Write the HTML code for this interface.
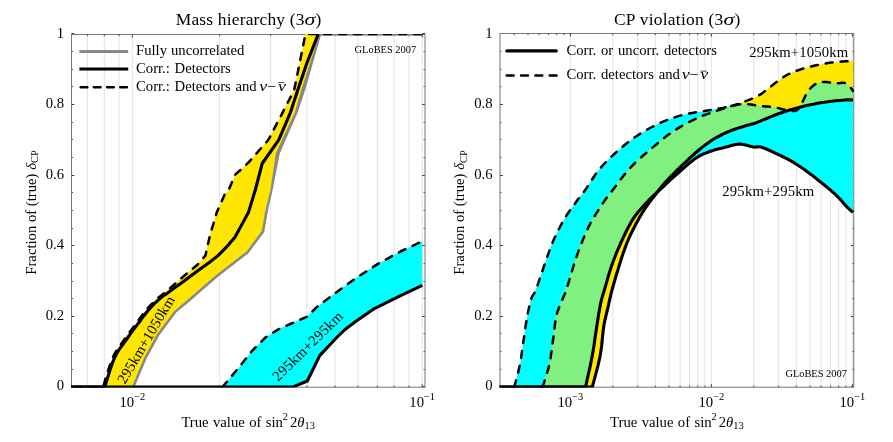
<!DOCTYPE html>
<html><head><meta charset="utf-8"><title>plot</title>
<style>
html,body{margin:0;padding:0;background:#fff;}
svg{display:block;will-change:transform;opacity:0.999;}
text{font-family:"Liberation Serif",serif;fill:#000;}
.i{font-style:italic;}
</style></head><body>
<svg width="893" height="442" viewBox="0 0 893 442">
<rect width="893" height="442" fill="#fff"/>
<defs>
<clipPath id="cl"><rect x="71.0" y="34.0" width="354.5" height="353.59999999999997"/></clipPath>
<clipPath id="cr"><rect x="499.5" y="33.0" width="354.79999999999995" height="354.59999999999997"/></clipPath>
<clipPath id="ccy" clip-path="url(#cr)"><polygon points="490.0,387.1 514.2,387.1 514.8,384.7 515.8,381.3 516.8,377.3 518.0,373.0 519.0,368.7 519.9,364.7 520.6,360.9 521.2,357.2 521.7,353.4 522.3,349.6 522.8,345.8 523.3,342.0 523.9,338.2 524.4,334.4 524.9,330.6 525.5,326.8 526.1,323.0 526.7,319.4 527.4,315.7 528.1,312.0 528.9,308.3 529.7,304.9 530.4,301.7 531.2,299.0 531.9,297.0 532.6,295.7 533.3,294.7 534.0,293.6 534.8,292.2 535.8,290.0 536.9,287.0 538.2,283.4 539.5,279.4 540.9,275.3 542.4,271.0 543.8,266.9 545.2,262.8 546.6,258.6 548.1,254.4 549.6,250.2 551.2,246.0 552.8,242.0 554.5,238.0 556.4,234.1 558.2,230.3 560.2,226.5 562.1,222.9 564.1,219.4 566.2,216.0 568.3,212.8 570.5,209.6 572.7,206.7 574.7,203.9 576.6,201.3 578.2,199.1 579.5,197.4 580.8,195.8 582.1,194.2 583.5,192.4 585.2,190.0 587.2,187.1 589.4,183.7 591.7,180.0 594.2,176.3 596.7,172.6 599.4,169.2 602.2,166.0 605.1,162.9 608.1,159.8 611.2,156.9 614.3,154.0 617.5,151.1 620.7,148.3 624.0,145.5 627.4,142.8 630.9,140.2 634.3,137.6 637.9,135.2 641.5,132.9 645.3,130.6 649.1,128.5 652.9,126.5 656.7,124.6 660.5,122.8 664.3,121.2 668.0,119.7 671.8,118.3 675.6,117.1 679.3,115.9 683.1,114.9 686.9,114.0 690.8,113.2 694.8,112.5 698.6,111.9 702.3,111.4 705.7,110.8 708.8,110.3 711.6,109.8 714.3,109.3 716.9,108.9 719.6,108.4 722.6,107.9 725.8,107.2 729.2,106.5 732.7,105.6 736.2,104.9 739.7,104.3 743.0,104.0 746.2,104.0 749.4,104.3 752.5,104.7 755.5,105.3 758.4,105.7 761.1,106.1 763.7,106.3 766.1,106.5 768.3,106.6 770.5,106.7 772.6,106.9 774.7,107.2 776.7,107.6 778.7,108.1 780.6,108.7 782.4,109.2 784.2,109.7 786.0,110.1 787.8,110.4 789.7,110.7 791.5,111.0 793.2,111.1 794.8,111.0 796.2,110.6 797.4,109.9 798.4,108.9 799.3,107.7 800.1,106.3 800.9,104.8 801.8,103.3 802.7,101.6 803.6,99.7 804.5,97.7 805.4,95.7 806.4,93.7 807.5,92.0 808.7,90.4 809.9,88.9 811.2,87.5 812.6,86.2 814.0,85.0 815.4,84.1 816.8,83.4 818.2,82.8 819.7,82.4 821.2,82.1 822.8,82.0 824.4,81.9 826.2,82.0 828.1,82.2 830.0,82.5 832.0,82.9 833.9,83.2 835.7,83.4 837.4,83.4 839.0,83.2 840.6,83.0 842.1,82.8 843.5,82.8 844.8,83.0 846.0,83.5 847.1,84.2 848.1,85.0 849.0,85.9 849.8,86.8 850.5,87.5 851.1,88.2 851.7,88.9 852.1,89.5 852.5,90.1 852.8,90.6 853.0,91.0 853.0,212.3 852.4,211.8 851.7,211.2 850.8,210.5 849.7,209.6 848.5,208.4 847.1,207.1 845.5,205.4 843.8,203.5 841.9,201.3 839.9,199.0 837.8,196.8 835.7,194.7 833.6,192.8 831.4,190.9 829.2,189.0 827.0,187.1 824.6,185.2 822.2,183.3 819.7,181.3 817.1,179.2 814.4,177.0 811.7,174.9 809.0,172.9 806.3,170.9 803.7,169.0 801.0,167.3 798.4,165.5 795.8,163.8 793.1,162.2 790.5,160.7 787.8,159.2 785.2,157.8 782.5,156.5 779.8,155.2 777.2,154.0 774.7,152.8 772.2,151.7 769.8,150.5 767.4,149.5 765.1,148.5 763.0,147.7 761.1,147.1 759.5,146.8 758.3,146.8 757.1,146.9 756.0,147.0 754.8,147.1 753.2,147.0 751.3,146.6 749.1,146.0 746.8,145.3 744.4,144.7 742.0,144.3 739.6,144.1 737.2,144.3 734.7,144.7 732.2,145.3 729.8,146.0 727.3,146.7 724.9,147.3 722.6,147.9 720.3,148.4 718.1,148.9 715.9,149.5 713.6,150.2 711.3,151.0 709.0,151.8 706.6,152.7 704.3,153.6 701.9,154.7 699.3,156.0 696.7,157.6 693.9,159.6 690.9,161.9 687.9,164.4 684.8,167.1 681.7,169.8 678.6,172.5 675.5,175.3 672.3,178.2 669.1,181.2 665.9,184.1 662.9,187.0 660.0,189.7 657.3,192.2 654.8,194.5 652.4,196.7 650.1,198.9 647.9,201.2 645.6,203.6 643.4,206.0 641.2,208.5 639.0,211.0 636.9,213.6 634.8,216.4 632.8,219.4 630.8,222.8 628.8,226.4 626.8,230.3 624.8,234.2 623.0,238.1 621.2,242.0 619.5,245.8 617.9,249.5 616.3,253.2 614.9,257.0 613.4,260.8 612.0,264.7 610.6,268.9 609.2,273.3 607.9,277.7 606.7,282.1 605.5,286.1 604.5,289.7 603.6,292.6 602.9,294.8 602.3,296.8 601.8,298.7 601.2,300.9 600.6,303.6 600.0,306.8 599.4,310.2 598.7,313.9 598.1,317.8 597.5,321.9 596.8,326.2 596.1,330.7 595.4,335.4 594.7,340.3 594.0,345.4 593.2,350.5 592.3,355.6 591.2,361.1 590.0,367.1 588.6,373.2 587.3,378.9 586.3,383.6 585.5,387.1 490.0,387.1"/></clipPath>
</defs>
<!-- left chart -->
<line x1="87.5" y1="34.5" x2="87.5" y2="387.2" stroke="#e3e3e3" stroke-width="1"/>
<line x1="104.3" y1="34.5" x2="104.3" y2="387.2" stroke="#e3e3e3" stroke-width="1"/>
<line x1="119.1" y1="34.5" x2="119.1" y2="387.2" stroke="#e3e3e3" stroke-width="1"/>
<line x1="132.4" y1="34.5" x2="132.4" y2="387.2" stroke="#e3e3e3" stroke-width="1"/>
<line x1="219.6" y1="34.5" x2="219.6" y2="387.2" stroke="#e3e3e3" stroke-width="1"/>
<line x1="270.7" y1="34.5" x2="270.7" y2="387.2" stroke="#e3e3e3" stroke-width="1"/>
<line x1="306.9" y1="34.5" x2="306.9" y2="387.2" stroke="#e3e3e3" stroke-width="1"/>
<line x1="335.0" y1="34.5" x2="335.0" y2="387.2" stroke="#e3e3e3" stroke-width="1"/>
<line x1="357.9" y1="34.5" x2="357.9" y2="387.2" stroke="#e3e3e3" stroke-width="1"/>
<line x1="377.3" y1="34.5" x2="377.3" y2="387.2" stroke="#e3e3e3" stroke-width="1"/>
<line x1="394.1" y1="34.5" x2="394.1" y2="387.2" stroke="#e3e3e3" stroke-width="1"/>
<line x1="408.9" y1="34.5" x2="408.9" y2="387.2" stroke="#e3e3e3" stroke-width="1"/>
<line x1="422.2" y1="34.5" x2="422.2" y2="387.2" stroke="#e3e3e3" stroke-width="1"/>
<line x1="87.5" y1="34.5" x2="87.5" y2="36.1" stroke="#3a3a3a" stroke-width="1"/>
<line x1="87.5" y1="387.2" x2="87.5" y2="385.59999999999997" stroke="#3a3a3a" stroke-width="1"/>
<line x1="104.3" y1="34.5" x2="104.3" y2="36.1" stroke="#3a3a3a" stroke-width="1"/>
<line x1="104.3" y1="387.2" x2="104.3" y2="385.59999999999997" stroke="#3a3a3a" stroke-width="1"/>
<line x1="119.1" y1="34.5" x2="119.1" y2="36.1" stroke="#3a3a3a" stroke-width="1"/>
<line x1="119.1" y1="387.2" x2="119.1" y2="385.59999999999997" stroke="#3a3a3a" stroke-width="1"/>
<line x1="132.4" y1="34.5" x2="132.4" y2="37.5" stroke="#3a3a3a" stroke-width="1"/>
<line x1="132.4" y1="387.2" x2="132.4" y2="384.2" stroke="#3a3a3a" stroke-width="1"/>
<line x1="219.6" y1="34.5" x2="219.6" y2="36.1" stroke="#3a3a3a" stroke-width="1"/>
<line x1="219.6" y1="387.2" x2="219.6" y2="385.59999999999997" stroke="#3a3a3a" stroke-width="1"/>
<line x1="270.7" y1="34.5" x2="270.7" y2="36.1" stroke="#3a3a3a" stroke-width="1"/>
<line x1="270.7" y1="387.2" x2="270.7" y2="385.59999999999997" stroke="#3a3a3a" stroke-width="1"/>
<line x1="306.9" y1="34.5" x2="306.9" y2="36.1" stroke="#3a3a3a" stroke-width="1"/>
<line x1="306.9" y1="387.2" x2="306.9" y2="385.59999999999997" stroke="#3a3a3a" stroke-width="1"/>
<line x1="335.0" y1="34.5" x2="335.0" y2="36.1" stroke="#3a3a3a" stroke-width="1"/>
<line x1="335.0" y1="387.2" x2="335.0" y2="385.59999999999997" stroke="#3a3a3a" stroke-width="1"/>
<line x1="357.9" y1="34.5" x2="357.9" y2="36.1" stroke="#3a3a3a" stroke-width="1"/>
<line x1="357.9" y1="387.2" x2="357.9" y2="385.59999999999997" stroke="#3a3a3a" stroke-width="1"/>
<line x1="377.3" y1="34.5" x2="377.3" y2="36.1" stroke="#3a3a3a" stroke-width="1"/>
<line x1="377.3" y1="387.2" x2="377.3" y2="385.59999999999997" stroke="#3a3a3a" stroke-width="1"/>
<line x1="394.1" y1="34.5" x2="394.1" y2="36.1" stroke="#3a3a3a" stroke-width="1"/>
<line x1="394.1" y1="387.2" x2="394.1" y2="385.59999999999997" stroke="#3a3a3a" stroke-width="1"/>
<line x1="408.9" y1="34.5" x2="408.9" y2="36.1" stroke="#3a3a3a" stroke-width="1"/>
<line x1="408.9" y1="387.2" x2="408.9" y2="385.59999999999997" stroke="#3a3a3a" stroke-width="1"/>
<line x1="422.2" y1="34.5" x2="422.2" y2="37.5" stroke="#3a3a3a" stroke-width="1"/>
<line x1="422.2" y1="387.2" x2="422.2" y2="384.2" stroke="#3a3a3a" stroke-width="1"/>
<line x1="71.5" y1="386.5" x2="74.3" y2="386.5" stroke="#3a3a3a" stroke-width="1"/>
<line x1="425.0" y1="386.5" x2="422.2" y2="386.5" stroke="#3a3a3a" stroke-width="1"/>
<line x1="71.5" y1="369.5" x2="72.9" y2="369.5" stroke="#3a3a3a" stroke-width="1"/>
<line x1="425.0" y1="369.5" x2="423.6" y2="369.5" stroke="#3a3a3a" stroke-width="1"/>
<line x1="71.5" y1="351.5" x2="72.9" y2="351.5" stroke="#3a3a3a" stroke-width="1"/>
<line x1="425.0" y1="351.5" x2="423.6" y2="351.5" stroke="#3a3a3a" stroke-width="1"/>
<line x1="71.5" y1="333.5" x2="72.9" y2="333.5" stroke="#3a3a3a" stroke-width="1"/>
<line x1="425.0" y1="333.5" x2="423.6" y2="333.5" stroke="#3a3a3a" stroke-width="1"/>
<line x1="71.5" y1="316.5" x2="74.3" y2="316.5" stroke="#3a3a3a" stroke-width="1"/>
<line x1="425.0" y1="316.5" x2="422.2" y2="316.5" stroke="#3a3a3a" stroke-width="1"/>
<line x1="71.5" y1="298.5" x2="72.9" y2="298.5" stroke="#3a3a3a" stroke-width="1"/>
<line x1="425.0" y1="298.5" x2="423.6" y2="298.5" stroke="#3a3a3a" stroke-width="1"/>
<line x1="71.5" y1="281.5" x2="72.9" y2="281.5" stroke="#3a3a3a" stroke-width="1"/>
<line x1="425.0" y1="281.5" x2="423.6" y2="281.5" stroke="#3a3a3a" stroke-width="1"/>
<line x1="71.5" y1="263.5" x2="72.9" y2="263.5" stroke="#3a3a3a" stroke-width="1"/>
<line x1="425.0" y1="263.5" x2="423.6" y2="263.5" stroke="#3a3a3a" stroke-width="1"/>
<line x1="71.5" y1="245.5" x2="74.3" y2="245.5" stroke="#3a3a3a" stroke-width="1"/>
<line x1="425.0" y1="245.5" x2="422.2" y2="245.5" stroke="#3a3a3a" stroke-width="1"/>
<line x1="71.5" y1="228.5" x2="72.9" y2="228.5" stroke="#3a3a3a" stroke-width="1"/>
<line x1="425.0" y1="228.5" x2="423.6" y2="228.5" stroke="#3a3a3a" stroke-width="1"/>
<line x1="71.5" y1="210.5" x2="72.9" y2="210.5" stroke="#3a3a3a" stroke-width="1"/>
<line x1="425.0" y1="210.5" x2="423.6" y2="210.5" stroke="#3a3a3a" stroke-width="1"/>
<line x1="71.5" y1="192.5" x2="72.9" y2="192.5" stroke="#3a3a3a" stroke-width="1"/>
<line x1="425.0" y1="192.5" x2="423.6" y2="192.5" stroke="#3a3a3a" stroke-width="1"/>
<line x1="71.5" y1="175.5" x2="74.3" y2="175.5" stroke="#3a3a3a" stroke-width="1"/>
<line x1="425.0" y1="175.5" x2="422.2" y2="175.5" stroke="#3a3a3a" stroke-width="1"/>
<line x1="71.5" y1="157.5" x2="72.9" y2="157.5" stroke="#3a3a3a" stroke-width="1"/>
<line x1="425.0" y1="157.5" x2="423.6" y2="157.5" stroke="#3a3a3a" stroke-width="1"/>
<line x1="71.5" y1="139.5" x2="72.9" y2="139.5" stroke="#3a3a3a" stroke-width="1"/>
<line x1="425.0" y1="139.5" x2="423.6" y2="139.5" stroke="#3a3a3a" stroke-width="1"/>
<line x1="71.5" y1="122.5" x2="72.9" y2="122.5" stroke="#3a3a3a" stroke-width="1"/>
<line x1="425.0" y1="122.5" x2="423.6" y2="122.5" stroke="#3a3a3a" stroke-width="1"/>
<line x1="71.5" y1="104.5" x2="74.3" y2="104.5" stroke="#3a3a3a" stroke-width="1"/>
<line x1="425.0" y1="104.5" x2="422.2" y2="104.5" stroke="#3a3a3a" stroke-width="1"/>
<line x1="71.5" y1="86.5" x2="72.9" y2="86.5" stroke="#3a3a3a" stroke-width="1"/>
<line x1="425.0" y1="86.5" x2="423.6" y2="86.5" stroke="#3a3a3a" stroke-width="1"/>
<line x1="71.5" y1="69.5" x2="72.9" y2="69.5" stroke="#3a3a3a" stroke-width="1"/>
<line x1="425.0" y1="69.5" x2="423.6" y2="69.5" stroke="#3a3a3a" stroke-width="1"/>
<line x1="71.5" y1="51.5" x2="72.9" y2="51.5" stroke="#3a3a3a" stroke-width="1"/>
<line x1="425.0" y1="51.5" x2="423.6" y2="51.5" stroke="#3a3a3a" stroke-width="1"/>
<line x1="71.5" y1="33.5" x2="74.3" y2="33.5" stroke="#3a3a3a" stroke-width="1"/>
<line x1="425.0" y1="33.5" x2="422.2" y2="33.5" stroke="#3a3a3a" stroke-width="1"/>
<rect x="71.5" y="34.5" width="353.5" height="352.7" fill="none" stroke="#777" stroke-width="1"/>
<g clip-path="url(#cl)">
<polygon points="134.6,387.1 146.9,357.9 159.4,335.2 176.3,312.6 189.9,301.3 203.0,289.7 219.0,276.0 248.4,253.3 264.3,231.9 267.6,212.6 272.6,190.0 279.8,153.6 285.6,140.0 297.7,112.6 305.2,90.0 321.3,34.1 316.0,32.6 299.9,88.4 292.6,110.6 280.6,137.8 274.5,152.2 267.2,188.9 262.2,211.5 259.3,229.6 244.6,249.4 215.6,271.7 199.4,285.5 186.3,297.1 172.2,308.9 154.8,332.2 141.9,355.5 129.5,385.0" fill="#888"/>
<line x1="316" y1="34.1" x2="422.3" y2="34.1" stroke="#888" stroke-width="3.1"/>
<polygon points="60.0,387.1 103.2,387.1 105.5,378.6 107.2,373.1 109.1,367.3 111.1,361.9 112.9,357.2 114.8,353.4 116.8,350.1 118.8,347.0 120.9,344.3 122.9,341.6 124.8,338.8 126.8,336.0 128.8,333.2 130.8,330.5 132.8,327.9 134.7,325.4 136.5,322.9 138.3,320.5 140.0,318.1 141.7,315.9 143.3,313.6 145.0,311.4 146.8,309.3 148.6,307.2 150.5,305.2 152.4,303.3 154.3,301.4 156.3,299.5 158.3,297.7 160.6,295.9 163.1,294.0 165.6,292.1 169.5,288.6 183.9,276.0 197.5,264.7 205.4,255.6 210.0,235.2 216.7,212.6 224.7,194.5 228.8,189.7 235.1,174.8 248.6,162.4 268.4,139.8 282.6,112.6 294.2,90.0 305.5,34.1 422.3,34.1 319.3,34.1 301.3,90.0 294.8,112.6 282.0,140.0 275.8,153.6 270.4,190.0 265.0,212.2 261.9,230.8 246.6,251.4 217.4,274.0 201.3,287.7 188.2,299.3 174.4,310.9 157.2,333.8 144.6,356.8 131.8,387.1" fill="#FFE600"/>
<polygon points="60.0,387.1 222.4,387.1 239.4,366.9 251.9,351.1 265.4,337.5 277.9,329.6 291.4,323.5 307.3,316.5 316.3,307.5 332.0,295.5 355.2,278.6 377.9,263.9 400.5,251.5 422.3,241.3 422.3,285.4 400.5,295.6 373.3,309.2 357.0,320.5 345.0,329.5 336.7,337.5 319.7,355.6 307.3,381.0 292.6,387.1 60.0,387.1" fill="#00FFFF"/>
<polyline points="60.0,387.1 104.7,387.1 105.7,383.8 107.2,379.1 108.9,373.6 110.7,367.9 112.6,362.5 114.5,357.9 116.3,354.2 118.3,351.0 120.2,348.0 122.2,345.3 124.2,342.6 126.2,339.8 128.2,337.0 130.2,334.2 132.1,331.6 134.1,328.9 136.0,326.4 137.9,323.9 139.7,321.5 141.4,319.1 143.0,316.9 144.7,314.7 146.4,312.5 148.1,310.4 149.9,308.4 151.7,306.4 153.6,304.4 155.5,302.6 157.4,300.8 159.4,299.0 161.4,297.4 163.4,295.8 165.5,294.4 167.6,292.9 169.9,291.3 172.4,289.5 175.0,287.6 177.8,285.6 180.7,283.4 183.7,281.2 187.1,278.7 190.7,276.0 194.8,273.0 199.5,269.6 204.4,266.1 209.3,262.5 213.9,258.9 217.9,255.6 221.5,252.2 224.9,248.7 228.1,245.3 230.8,242.1 233.1,239.4 234.8,237.5 248.4,212.6 255.3,190.0 262.2,163.5 278.8,139.8 290.4,112.6 297.8,90.0 307.1,62.5 318.2,34.1" fill="none" stroke="#000" stroke-width="3.1" stroke-linejoin="round"/>
<polyline points="60.0,387.1 103.2,387.1 105.5,378.6 107.2,373.1 109.1,367.3 111.1,361.9 112.9,357.2 114.8,353.4 116.8,350.1 118.8,347.0 120.9,344.3 122.9,341.6 124.8,338.8 126.8,336.0 128.8,333.2 130.8,330.5 132.8,327.9 134.7,325.4 136.5,322.9 138.3,320.5 140.0,318.1 141.7,315.9 143.3,313.6 145.0,311.4 146.8,309.3 148.6,307.2 150.5,305.2 152.4,303.3 154.3,301.4 156.3,299.5 158.3,297.7 160.6,295.9 163.1,294.0 165.6,292.1 169.5,288.6 183.9,276.0 197.5,264.7 205.4,255.6 210.0,235.2 216.7,212.6 224.7,194.5 228.8,189.7 235.1,174.8 248.6,162.4 268.4,139.8 282.6,112.6 294.2,90.0 305.5,34.1 422.3,34.1" fill="none" stroke="#000" stroke-width="2.5" stroke-dasharray="7 8" stroke-linecap="round" stroke-linejoin="round"/>
<polyline points="60.0,387.1 292.6,387.1 307.3,381.0 319.7,355.6 336.7,337.5 345.0,329.5 357.0,320.5 373.3,309.2 400.5,295.6 422.3,285.4" fill="none" stroke="#000" stroke-width="3.1" stroke-linejoin="round"/>
<polyline points="222.4,387.1 239.4,366.9 251.9,351.1 265.4,337.5 277.9,329.6 291.4,323.5 307.3,316.5 316.3,307.5 332.0,295.5 355.2,278.6 377.9,263.9 400.5,251.5 422.3,241.3" fill="none" stroke="#000" stroke-width="2.5" stroke-dasharray="7 8" stroke-linecap="round" stroke-linejoin="round"/>
</g>
<line x1="79.4" y1="51.5" x2="128.2" y2="51.5" stroke="#888" stroke-width="3.1"/>
<line x1="79.4" y1="69" x2="128.2" y2="69" stroke="#000" stroke-width="3.1"/>
<line x1="80.65" y1="87.2" x2="127.5" y2="87.2" stroke="#000" stroke-width="2.5" stroke-dasharray="6.7 6.5" stroke-linecap="round"/>
<text x="136" y="55.2" font-size="14.7" word-spacing="0.3">Fully uncorrelated</text>
<text x="136" y="73" font-size="14.7" word-spacing="1">Corr.: Detectors</text>
<text x="136" y="90.7" font-size="14.7" word-spacing="1">Corr.: Detectors and</text>
<text transform="translate(259.3,90.7) scale(1.22,1)" font-size="14.7" class="i">ν</text>
<text transform="translate(266.7,90.7) scale(1.12,1)" font-size="14.7">−</text>
<text transform="translate(277.9,90.7) scale(1.22,1)" font-size="14.7" class="i">ν</text>
<line x1="278.1" y1="82.6" x2="284.3" y2="82.6" stroke="#000" stroke-width="0.7"/>
<text x="354.6" y="52.8" font-size="10.4">GLoBES 2007</text>
<text transform="translate(125,384.8) rotate(-59.5)" font-size="14.7" textLength="98.9" lengthAdjust="spacing">295km+1050km</text>
<text transform="translate(278.1,381.9) rotate(-44.5)" font-size="14.7" textLength="92.1" lengthAdjust="spacing">295km+295km</text>
<text x="175.8" y="24.5" font-size="17.4" textLength="145.6" lengthAdjust="spacing">Mass hierarchy (3<tspan class="i" textLength="10.8" lengthAdjust="spacingAndGlyphs">σ</tspan>)</text>
<text x="64.0" y="37.5" font-size="14.7" text-anchor="end">1</text>
<text x="64.0" y="108.1" font-size="14.7" text-anchor="end">0.8</text>
<text x="64.0" y="178.6" font-size="14.7" text-anchor="end">0.6</text>
<text x="64.0" y="249.2" font-size="14.7" text-anchor="end">0.4</text>
<text x="64.0" y="319.7" font-size="14.7" text-anchor="end">0.2</text>
<text x="64.0" y="390.3" font-size="14.7" text-anchor="end">0</text>
<text x="119.5" y="406.5" font-size="14.7">10<tspan font-size="10.4" dy="-6.6">−2</tspan></text>
<text x="409.3" y="406.5" font-size="14.7">10<tspan font-size="10.4" dy="-6.6">−1</tspan></text>
<text x="181.4" y="426.6" font-size="14.7" word-spacing="0.7">True value of sin<tspan font-size="10.4" dy="-6.4" dx="-0.2">2</tspan><tspan dy="6.4" dx="2.1">2</tspan><tspan class="i">θ</tspan><tspan font-size="10.4" dy="2">13</tspan></text>
<text transform="translate(35.8,274.7) rotate(-90)" font-size="14.7">Fraction of (true) <tspan class="i">δ</tspan><tspan font-size="10.4" dy="2.5">CP</tspan></text>
<!-- right chart -->
<line x1="570.4" y1="33.5" x2="570.4" y2="387.2" stroke="#e3e3e3" stroke-width="1"/>
<line x1="612.8" y1="33.5" x2="612.8" y2="387.2" stroke="#e3e3e3" stroke-width="1"/>
<line x1="637.7" y1="33.5" x2="637.7" y2="387.2" stroke="#e3e3e3" stroke-width="1"/>
<line x1="655.3" y1="33.5" x2="655.3" y2="387.2" stroke="#e3e3e3" stroke-width="1"/>
<line x1="669.0" y1="33.5" x2="669.0" y2="387.2" stroke="#e3e3e3" stroke-width="1"/>
<line x1="680.1" y1="33.5" x2="680.1" y2="387.2" stroke="#e3e3e3" stroke-width="1"/>
<line x1="689.6" y1="33.5" x2="689.6" y2="387.2" stroke="#e3e3e3" stroke-width="1"/>
<line x1="697.7" y1="33.5" x2="697.7" y2="387.2" stroke="#e3e3e3" stroke-width="1"/>
<line x1="704.9" y1="33.5" x2="704.9" y2="387.2" stroke="#e3e3e3" stroke-width="1"/>
<line x1="711.4" y1="33.5" x2="711.4" y2="387.2" stroke="#e3e3e3" stroke-width="1"/>
<line x1="753.8" y1="33.5" x2="753.8" y2="387.2" stroke="#e3e3e3" stroke-width="1"/>
<line x1="778.7" y1="33.5" x2="778.7" y2="387.2" stroke="#e3e3e3" stroke-width="1"/>
<line x1="796.3" y1="33.5" x2="796.3" y2="387.2" stroke="#e3e3e3" stroke-width="1"/>
<line x1="810.0" y1="33.5" x2="810.0" y2="387.2" stroke="#e3e3e3" stroke-width="1"/>
<line x1="821.1" y1="33.5" x2="821.1" y2="387.2" stroke="#e3e3e3" stroke-width="1"/>
<line x1="830.6" y1="33.5" x2="830.6" y2="387.2" stroke="#e3e3e3" stroke-width="1"/>
<line x1="838.7" y1="33.5" x2="838.7" y2="387.2" stroke="#e3e3e3" stroke-width="1"/>
<line x1="845.9" y1="33.5" x2="845.9" y2="387.2" stroke="#e3e3e3" stroke-width="1"/>
<line x1="852.4" y1="33.5" x2="852.4" y2="387.2" stroke="#e3e3e3" stroke-width="1"/>
<line x1="514.3" y1="33.5" x2="514.3" y2="35.1" stroke="#3a3a3a" stroke-width="1"/>
<line x1="514.3" y1="387.2" x2="514.3" y2="385.59999999999997" stroke="#3a3a3a" stroke-width="1"/>
<line x1="528.0" y1="33.5" x2="528.0" y2="35.1" stroke="#3a3a3a" stroke-width="1"/>
<line x1="528.0" y1="387.2" x2="528.0" y2="385.59999999999997" stroke="#3a3a3a" stroke-width="1"/>
<line x1="539.1" y1="33.5" x2="539.1" y2="35.1" stroke="#3a3a3a" stroke-width="1"/>
<line x1="539.1" y1="387.2" x2="539.1" y2="385.59999999999997" stroke="#3a3a3a" stroke-width="1"/>
<line x1="548.6" y1="33.5" x2="548.6" y2="35.1" stroke="#3a3a3a" stroke-width="1"/>
<line x1="548.6" y1="387.2" x2="548.6" y2="385.59999999999997" stroke="#3a3a3a" stroke-width="1"/>
<line x1="556.7" y1="33.5" x2="556.7" y2="35.1" stroke="#3a3a3a" stroke-width="1"/>
<line x1="556.7" y1="387.2" x2="556.7" y2="385.59999999999997" stroke="#3a3a3a" stroke-width="1"/>
<line x1="563.9" y1="33.5" x2="563.9" y2="35.1" stroke="#3a3a3a" stroke-width="1"/>
<line x1="563.9" y1="387.2" x2="563.9" y2="385.59999999999997" stroke="#3a3a3a" stroke-width="1"/>
<line x1="570.4" y1="33.5" x2="570.4" y2="36.5" stroke="#3a3a3a" stroke-width="1"/>
<line x1="570.4" y1="387.2" x2="570.4" y2="384.2" stroke="#3a3a3a" stroke-width="1"/>
<line x1="612.8" y1="33.5" x2="612.8" y2="35.1" stroke="#3a3a3a" stroke-width="1"/>
<line x1="612.8" y1="387.2" x2="612.8" y2="385.59999999999997" stroke="#3a3a3a" stroke-width="1"/>
<line x1="637.7" y1="33.5" x2="637.7" y2="35.1" stroke="#3a3a3a" stroke-width="1"/>
<line x1="637.7" y1="387.2" x2="637.7" y2="385.59999999999997" stroke="#3a3a3a" stroke-width="1"/>
<line x1="655.3" y1="33.5" x2="655.3" y2="35.1" stroke="#3a3a3a" stroke-width="1"/>
<line x1="655.3" y1="387.2" x2="655.3" y2="385.59999999999997" stroke="#3a3a3a" stroke-width="1"/>
<line x1="669.0" y1="33.5" x2="669.0" y2="35.1" stroke="#3a3a3a" stroke-width="1"/>
<line x1="669.0" y1="387.2" x2="669.0" y2="385.59999999999997" stroke="#3a3a3a" stroke-width="1"/>
<line x1="680.1" y1="33.5" x2="680.1" y2="35.1" stroke="#3a3a3a" stroke-width="1"/>
<line x1="680.1" y1="387.2" x2="680.1" y2="385.59999999999997" stroke="#3a3a3a" stroke-width="1"/>
<line x1="689.6" y1="33.5" x2="689.6" y2="35.1" stroke="#3a3a3a" stroke-width="1"/>
<line x1="689.6" y1="387.2" x2="689.6" y2="385.59999999999997" stroke="#3a3a3a" stroke-width="1"/>
<line x1="697.7" y1="33.5" x2="697.7" y2="35.1" stroke="#3a3a3a" stroke-width="1"/>
<line x1="697.7" y1="387.2" x2="697.7" y2="385.59999999999997" stroke="#3a3a3a" stroke-width="1"/>
<line x1="704.9" y1="33.5" x2="704.9" y2="35.1" stroke="#3a3a3a" stroke-width="1"/>
<line x1="704.9" y1="387.2" x2="704.9" y2="385.59999999999997" stroke="#3a3a3a" stroke-width="1"/>
<line x1="711.4" y1="33.5" x2="711.4" y2="36.5" stroke="#3a3a3a" stroke-width="1"/>
<line x1="711.4" y1="387.2" x2="711.4" y2="384.2" stroke="#3a3a3a" stroke-width="1"/>
<line x1="753.8" y1="33.5" x2="753.8" y2="35.1" stroke="#3a3a3a" stroke-width="1"/>
<line x1="753.8" y1="387.2" x2="753.8" y2="385.59999999999997" stroke="#3a3a3a" stroke-width="1"/>
<line x1="778.7" y1="33.5" x2="778.7" y2="35.1" stroke="#3a3a3a" stroke-width="1"/>
<line x1="778.7" y1="387.2" x2="778.7" y2="385.59999999999997" stroke="#3a3a3a" stroke-width="1"/>
<line x1="796.3" y1="33.5" x2="796.3" y2="35.1" stroke="#3a3a3a" stroke-width="1"/>
<line x1="796.3" y1="387.2" x2="796.3" y2="385.59999999999997" stroke="#3a3a3a" stroke-width="1"/>
<line x1="810.0" y1="33.5" x2="810.0" y2="35.1" stroke="#3a3a3a" stroke-width="1"/>
<line x1="810.0" y1="387.2" x2="810.0" y2="385.59999999999997" stroke="#3a3a3a" stroke-width="1"/>
<line x1="821.1" y1="33.5" x2="821.1" y2="35.1" stroke="#3a3a3a" stroke-width="1"/>
<line x1="821.1" y1="387.2" x2="821.1" y2="385.59999999999997" stroke="#3a3a3a" stroke-width="1"/>
<line x1="830.6" y1="33.5" x2="830.6" y2="35.1" stroke="#3a3a3a" stroke-width="1"/>
<line x1="830.6" y1="387.2" x2="830.6" y2="385.59999999999997" stroke="#3a3a3a" stroke-width="1"/>
<line x1="838.7" y1="33.5" x2="838.7" y2="35.1" stroke="#3a3a3a" stroke-width="1"/>
<line x1="838.7" y1="387.2" x2="838.7" y2="385.59999999999997" stroke="#3a3a3a" stroke-width="1"/>
<line x1="845.9" y1="33.5" x2="845.9" y2="35.1" stroke="#3a3a3a" stroke-width="1"/>
<line x1="845.9" y1="387.2" x2="845.9" y2="385.59999999999997" stroke="#3a3a3a" stroke-width="1"/>
<line x1="852.4" y1="33.5" x2="852.4" y2="36.5" stroke="#3a3a3a" stroke-width="1"/>
<line x1="852.4" y1="387.2" x2="852.4" y2="384.2" stroke="#3a3a3a" stroke-width="1"/>
<line x1="500.0" y1="386.5" x2="502.8" y2="386.5" stroke="#3a3a3a" stroke-width="1"/>
<line x1="853.8" y1="386.5" x2="851.0" y2="386.5" stroke="#3a3a3a" stroke-width="1"/>
<line x1="500.0" y1="369.5" x2="501.4" y2="369.5" stroke="#3a3a3a" stroke-width="1"/>
<line x1="853.8" y1="369.5" x2="852.4" y2="369.5" stroke="#3a3a3a" stroke-width="1"/>
<line x1="500.0" y1="351.5" x2="501.4" y2="351.5" stroke="#3a3a3a" stroke-width="1"/>
<line x1="853.8" y1="351.5" x2="852.4" y2="351.5" stroke="#3a3a3a" stroke-width="1"/>
<line x1="500.0" y1="333.5" x2="501.4" y2="333.5" stroke="#3a3a3a" stroke-width="1"/>
<line x1="853.8" y1="333.5" x2="852.4" y2="333.5" stroke="#3a3a3a" stroke-width="1"/>
<line x1="500.0" y1="316.5" x2="502.8" y2="316.5" stroke="#3a3a3a" stroke-width="1"/>
<line x1="853.8" y1="316.5" x2="851.0" y2="316.5" stroke="#3a3a3a" stroke-width="1"/>
<line x1="500.0" y1="298.5" x2="501.4" y2="298.5" stroke="#3a3a3a" stroke-width="1"/>
<line x1="853.8" y1="298.5" x2="852.4" y2="298.5" stroke="#3a3a3a" stroke-width="1"/>
<line x1="500.0" y1="281.5" x2="501.4" y2="281.5" stroke="#3a3a3a" stroke-width="1"/>
<line x1="853.8" y1="281.5" x2="852.4" y2="281.5" stroke="#3a3a3a" stroke-width="1"/>
<line x1="500.0" y1="263.5" x2="501.4" y2="263.5" stroke="#3a3a3a" stroke-width="1"/>
<line x1="853.8" y1="263.5" x2="852.4" y2="263.5" stroke="#3a3a3a" stroke-width="1"/>
<line x1="500.0" y1="245.5" x2="502.8" y2="245.5" stroke="#3a3a3a" stroke-width="1"/>
<line x1="853.8" y1="245.5" x2="851.0" y2="245.5" stroke="#3a3a3a" stroke-width="1"/>
<line x1="500.0" y1="228.5" x2="501.4" y2="228.5" stroke="#3a3a3a" stroke-width="1"/>
<line x1="853.8" y1="228.5" x2="852.4" y2="228.5" stroke="#3a3a3a" stroke-width="1"/>
<line x1="500.0" y1="210.5" x2="501.4" y2="210.5" stroke="#3a3a3a" stroke-width="1"/>
<line x1="853.8" y1="210.5" x2="852.4" y2="210.5" stroke="#3a3a3a" stroke-width="1"/>
<line x1="500.0" y1="192.5" x2="501.4" y2="192.5" stroke="#3a3a3a" stroke-width="1"/>
<line x1="853.8" y1="192.5" x2="852.4" y2="192.5" stroke="#3a3a3a" stroke-width="1"/>
<line x1="500.0" y1="175.5" x2="502.8" y2="175.5" stroke="#3a3a3a" stroke-width="1"/>
<line x1="853.8" y1="175.5" x2="851.0" y2="175.5" stroke="#3a3a3a" stroke-width="1"/>
<line x1="500.0" y1="157.5" x2="501.4" y2="157.5" stroke="#3a3a3a" stroke-width="1"/>
<line x1="853.8" y1="157.5" x2="852.4" y2="157.5" stroke="#3a3a3a" stroke-width="1"/>
<line x1="500.0" y1="139.5" x2="501.4" y2="139.5" stroke="#3a3a3a" stroke-width="1"/>
<line x1="853.8" y1="139.5" x2="852.4" y2="139.5" stroke="#3a3a3a" stroke-width="1"/>
<line x1="500.0" y1="122.5" x2="501.4" y2="122.5" stroke="#3a3a3a" stroke-width="1"/>
<line x1="853.8" y1="122.5" x2="852.4" y2="122.5" stroke="#3a3a3a" stroke-width="1"/>
<line x1="500.0" y1="104.5" x2="502.8" y2="104.5" stroke="#3a3a3a" stroke-width="1"/>
<line x1="853.8" y1="104.5" x2="851.0" y2="104.5" stroke="#3a3a3a" stroke-width="1"/>
<line x1="500.0" y1="86.5" x2="501.4" y2="86.5" stroke="#3a3a3a" stroke-width="1"/>
<line x1="853.8" y1="86.5" x2="852.4" y2="86.5" stroke="#3a3a3a" stroke-width="1"/>
<line x1="500.0" y1="69.5" x2="501.4" y2="69.5" stroke="#3a3a3a" stroke-width="1"/>
<line x1="853.8" y1="69.5" x2="852.4" y2="69.5" stroke="#3a3a3a" stroke-width="1"/>
<line x1="500.0" y1="51.5" x2="501.4" y2="51.5" stroke="#3a3a3a" stroke-width="1"/>
<line x1="853.8" y1="51.5" x2="852.4" y2="51.5" stroke="#3a3a3a" stroke-width="1"/>
<line x1="500.0" y1="33.5" x2="502.8" y2="33.5" stroke="#3a3a3a" stroke-width="1"/>
<line x1="853.8" y1="33.5" x2="851.0" y2="33.5" stroke="#3a3a3a" stroke-width="1"/>
<rect x="500.0" y="33.5" width="353.79999999999995" height="353.7" fill="none" stroke="#777" stroke-width="1"/>
<g clip-path="url(#cr)">
<polygon points="490.0,387.1 514.2,387.1 514.8,384.7 515.8,381.3 516.8,377.3 518.0,373.0 519.0,368.7 519.9,364.7 520.6,360.9 521.2,357.2 521.7,353.4 522.3,349.6 522.8,345.8 523.3,342.0 523.9,338.2 524.4,334.4 524.9,330.6 525.5,326.8 526.1,323.0 526.7,319.4 527.4,315.7 528.1,312.0 528.9,308.3 529.7,304.9 530.4,301.7 531.2,299.0 531.9,297.0 532.6,295.7 533.3,294.7 534.0,293.6 534.8,292.2 535.8,290.0 536.9,287.0 538.2,283.4 539.5,279.4 540.9,275.3 542.4,271.0 543.8,266.9 545.2,262.8 546.6,258.6 548.1,254.4 549.6,250.2 551.2,246.0 552.8,242.0 554.5,238.0 556.4,234.1 558.2,230.3 560.2,226.5 562.1,222.9 564.1,219.4 566.2,216.0 568.3,212.8 570.5,209.6 572.7,206.7 574.7,203.9 576.6,201.3 578.2,199.1 579.5,197.4 580.8,195.8 582.1,194.2 583.5,192.4 585.2,190.0 587.2,187.1 589.4,183.7 591.7,180.0 594.2,176.3 596.7,172.6 599.4,169.2 602.2,166.0 605.1,162.9 608.1,159.8 611.2,156.9 614.3,154.0 617.5,151.1 620.7,148.3 624.0,145.5 627.4,142.8 630.9,140.2 634.3,137.6 637.9,135.2 641.5,132.9 645.3,130.6 649.1,128.5 652.9,126.5 656.7,124.6 660.5,122.8 664.3,121.2 668.0,119.7 671.8,118.3 675.6,117.1 679.3,115.9 683.1,114.9 686.9,114.0 690.8,113.2 694.8,112.5 698.6,111.9 702.3,111.4 705.7,110.8 708.8,110.3 711.6,109.8 714.3,109.3 716.9,108.9 719.6,108.4 722.6,107.9 725.8,107.2 729.2,106.5 732.7,105.6 736.2,104.9 739.7,104.3 743.0,104.0 746.2,104.0 749.4,104.3 752.5,104.7 755.5,105.3 758.4,105.7 761.1,106.1 763.7,106.3 766.1,106.5 768.3,106.6 770.5,106.7 772.6,106.9 774.7,107.2 776.7,107.6 778.7,108.1 780.6,108.7 782.4,109.2 784.2,109.7 786.0,110.1 787.8,110.4 789.7,110.7 791.5,111.0 793.2,111.1 794.8,111.0 796.2,110.6 797.4,109.9 798.4,108.9 799.3,107.7 800.1,106.3 800.9,104.8 801.8,103.3 802.7,101.6 803.6,99.7 804.5,97.7 805.4,95.7 806.4,93.7 807.5,92.0 808.7,90.4 809.9,88.9 811.2,87.5 812.6,86.2 814.0,85.0 815.4,84.1 816.8,83.4 818.2,82.8 819.7,82.4 821.2,82.1 822.8,82.0 824.4,81.9 826.2,82.0 828.1,82.2 830.0,82.5 832.0,82.9 833.9,83.2 835.7,83.4 837.4,83.4 839.0,83.2 840.6,83.0 842.1,82.8 843.5,82.8 844.8,83.0 846.0,83.5 847.1,84.2 848.1,85.0 849.0,85.9 849.8,86.8 850.5,87.5 851.1,88.2 851.7,88.9 852.1,89.5 852.5,90.1 852.8,90.6 853.0,91.0 853.0,212.3 852.4,211.8 851.7,211.2 850.8,210.5 849.7,209.6 848.5,208.4 847.1,207.1 845.5,205.4 843.8,203.5 841.9,201.3 839.9,199.0 837.8,196.8 835.7,194.7 833.6,192.8 831.4,190.9 829.2,189.0 827.0,187.1 824.6,185.2 822.2,183.3 819.7,181.3 817.1,179.2 814.4,177.0 811.7,174.9 809.0,172.9 806.3,170.9 803.7,169.0 801.0,167.3 798.4,165.5 795.8,163.8 793.1,162.2 790.5,160.7 787.8,159.2 785.2,157.8 782.5,156.5 779.8,155.2 777.2,154.0 774.7,152.8 772.2,151.7 769.8,150.5 767.4,149.5 765.1,148.5 763.0,147.7 761.1,147.1 759.5,146.8 758.3,146.8 757.1,146.9 756.0,147.0 754.8,147.1 753.2,147.0 751.3,146.6 749.1,146.0 746.8,145.3 744.4,144.7 742.0,144.3 739.6,144.1 737.2,144.3 734.7,144.7 732.2,145.3 729.8,146.0 727.3,146.7 724.9,147.3 722.6,147.9 720.3,148.4 718.1,148.9 715.9,149.5 713.6,150.2 711.3,151.0 709.0,151.8 706.6,152.7 704.3,153.6 701.9,154.7 699.3,156.0 696.7,157.6 693.9,159.6 690.9,161.9 687.9,164.4 684.8,167.1 681.7,169.8 678.6,172.5 675.5,175.3 672.3,178.2 669.1,181.2 665.9,184.1 662.9,187.0 660.0,189.7 657.3,192.2 654.8,194.5 652.4,196.7 650.1,198.9 647.9,201.2 645.6,203.6 643.4,206.0 641.2,208.5 639.0,211.0 636.9,213.6 634.8,216.4 632.8,219.4 630.8,222.8 628.8,226.4 626.8,230.3 624.8,234.2 623.0,238.1 621.2,242.0 619.5,245.8 617.9,249.5 616.3,253.2 614.9,257.0 613.4,260.8 612.0,264.7 610.6,268.9 609.2,273.3 607.9,277.7 606.7,282.1 605.5,286.1 604.5,289.7 603.6,292.6 602.9,294.8 602.3,296.8 601.8,298.7 601.2,300.9 600.6,303.6 600.0,306.8 599.4,310.2 598.7,313.9 598.1,317.8 597.5,321.9 596.8,326.2 596.1,330.7 595.4,335.4 594.7,340.3 594.0,345.4 593.2,350.5 592.3,355.6 591.2,361.1 590.0,367.1 588.6,373.2 587.3,378.9 586.3,383.6 585.5,387.1 490.0,387.1" fill="#00FFFF"/>
<polygon points="490.0,387.1 542.5,387.1 543.3,384.7 544.4,381.3 545.7,377.3 547.0,373.0 548.3,368.7 549.3,364.7 550.1,361.0 550.7,357.2 551.2,353.5 551.7,349.7 552.2,345.9 552.7,342.0 553.3,337.8 553.8,333.4 554.3,329.0 554.9,324.6 555.5,320.6 556.1,317.1 556.8,314.2 557.5,311.8 558.2,309.7 559.0,307.7 559.8,305.7 560.6,303.6 561.5,301.4 562.4,299.4 563.3,297.3 564.3,295.1 565.3,292.6 566.3,289.8 567.4,286.5 568.5,282.8 569.6,278.9 570.8,274.8 572.0,270.8 573.2,266.9 574.4,263.1 575.7,259.3 577.0,255.4 578.3,251.7 579.7,247.9 581.1,244.3 582.5,240.8 583.9,237.3 585.3,234.0 586.8,230.6 588.4,227.3 590.1,223.9 592.0,220.4 594.1,216.9 596.3,213.3 598.5,209.9 600.6,206.6 602.6,203.6 604.4,201.0 605.9,198.8 607.4,196.8 609.0,194.8 610.8,192.5 612.9,189.7 615.4,186.4 618.2,182.7 621.2,178.7 624.4,174.6 627.7,170.7 631.1,166.9 634.6,163.3 638.4,159.8 642.3,156.3 646.2,152.9 650.0,149.7 653.7,146.6 657.2,143.7 660.6,140.8 663.9,138.2 667.2,135.6 670.6,133.1 674.1,130.7 677.8,128.4 681.6,126.1 685.5,123.9 689.4,121.9 693.2,120.0 696.7,118.3 700.0,116.8 703.2,115.5 706.3,114.4 709.3,113.4 712.1,112.4 714.8,111.5 717.3,110.6 719.6,109.8 721.8,109.1 724.0,108.4 726.1,107.7 728.4,107.0 730.8,106.2 733.1,105.5 735.6,104.7 738.0,104.0 740.5,103.1 743.0,102.2 745.6,101.2 748.3,100.2 751.0,99.1 753.7,98.0 756.3,96.8 758.8,95.4 761.2,93.9 763.5,92.2 765.8,90.4 768.0,88.6 770.2,86.9 772.4,85.2 774.5,83.6 776.6,82.0 778.7,80.4 780.7,78.9 782.7,77.5 784.8,76.2 786.8,75.0 788.8,74.0 790.8,73.1 792.9,72.2 795.0,71.3 797.3,70.5 799.7,69.7 802.2,68.9 804.9,68.1 807.5,67.4 810.3,66.7 813.1,66.0 816.0,65.3 818.9,64.7 821.9,64.1 824.9,63.6 828.0,63.0 831.2,62.6 834.7,62.2 838.5,61.9 842.4,61.6 846.1,61.3 849.3,61.2 851.6,61.0 852.9,60.9 853.5,60.9 853.6,60.9 853.3,60.9 853.1,61.0 853.0,61.0 853.0,100.0 852.2,100.0 851.3,99.9 850.2,99.9 848.7,99.8 847.0,99.9 844.8,100.0 842.1,100.2 839.0,100.5 835.5,100.8 831.8,101.2 828.1,101.7 824.4,102.2 820.8,102.8 817.0,103.4 813.2,104.2 809.4,104.9 805.6,105.8 801.8,106.7 798.0,107.7 794.3,108.7 790.5,109.8 786.7,111.0 783.0,112.2 779.2,113.5 775.3,115.0 771.3,116.6 767.2,118.3 763.3,119.9 759.7,121.4 756.6,122.6 754.1,123.5 752.1,124.0 750.4,124.5 748.8,124.9 747.1,125.3 745.1,125.9 742.7,126.7 740.1,127.5 737.4,128.4 734.7,129.3 731.9,130.3 729.2,131.4 726.6,132.5 723.9,133.7 721.3,135.0 718.7,136.3 716.0,137.7 713.4,139.3 710.8,141.0 708.1,142.9 705.5,144.8 702.8,146.9 700.1,149.0 697.5,151.2 694.8,153.5 691.9,156.1 689.1,158.7 686.4,161.3 683.9,163.6 681.7,165.7 679.9,167.4 678.5,168.8 677.2,170.0 676.1,171.1 675.0,172.3 673.8,173.5 672.5,174.8 671.1,176.2 669.8,177.5 668.5,178.8 667.2,180.2 666.0,181.5 664.9,182.7 663.9,183.9 663.0,185.0 662.0,186.2 660.8,187.7 659.4,189.5 657.6,191.7 655.6,194.3 653.3,197.2 651.1,200.1 648.9,203.0 646.9,205.8 645.1,208.4 643.5,211.0 641.9,213.5 640.3,216.1 638.8,218.8 637.2,221.7 635.5,224.8 633.9,228.0 632.2,231.3 630.5,234.7 628.9,238.3 627.3,242.0 625.8,245.9 624.3,250.0 622.8,254.3 621.4,258.6 620.1,262.8 618.8,266.9 617.6,270.9 616.3,274.8 615.2,278.7 614.1,282.5 613.1,286.2 612.1,289.7 611.2,293.0 610.5,296.2 609.8,299.2 609.1,302.2 608.5,305.1 607.8,308.1 607.1,311.0 606.4,313.7 605.8,316.5 605.1,319.3 604.4,322.5 603.8,326.2 603.2,330.4 602.7,335.1 602.2,340.1 601.7,345.2 601.0,350.4 600.2,355.6 599.0,361.1 597.6,367.1 596.0,373.2 594.5,378.9 593.2,383.6 592.3,387.1 490.0,387.1" fill="#FFE600"/>
<g clip-path="url(#ccy)"><polygon points="490.0,387.1 542.5,387.1 543.3,384.7 544.4,381.3 545.7,377.3 547.0,373.0 548.3,368.7 549.3,364.7 550.1,361.0 550.7,357.2 551.2,353.5 551.7,349.7 552.2,345.9 552.7,342.0 553.3,337.8 553.8,333.4 554.3,329.0 554.9,324.6 555.5,320.6 556.1,317.1 556.8,314.2 557.5,311.8 558.2,309.7 559.0,307.7 559.8,305.7 560.6,303.6 561.5,301.4 562.4,299.4 563.3,297.3 564.3,295.1 565.3,292.6 566.3,289.8 567.4,286.5 568.5,282.8 569.6,278.9 570.8,274.8 572.0,270.8 573.2,266.9 574.4,263.1 575.7,259.3 577.0,255.4 578.3,251.7 579.7,247.9 581.1,244.3 582.5,240.8 583.9,237.3 585.3,234.0 586.8,230.6 588.4,227.3 590.1,223.9 592.0,220.4 594.1,216.9 596.3,213.3 598.5,209.9 600.6,206.6 602.6,203.6 604.4,201.0 605.9,198.8 607.4,196.8 609.0,194.8 610.8,192.5 612.9,189.7 615.4,186.4 618.2,182.7 621.2,178.7 624.4,174.6 627.7,170.7 631.1,166.9 634.6,163.3 638.4,159.8 642.3,156.3 646.2,152.9 650.0,149.7 653.7,146.6 657.2,143.7 660.6,140.8 663.9,138.2 667.2,135.6 670.6,133.1 674.1,130.7 677.8,128.4 681.6,126.1 685.5,123.9 689.4,121.9 693.2,120.0 696.7,118.3 700.0,116.8 703.2,115.5 706.3,114.4 709.3,113.4 712.1,112.4 714.8,111.5 717.3,110.6 719.6,109.8 721.8,109.1 724.0,108.4 726.1,107.7 728.4,107.0 730.8,106.2 733.1,105.5 735.6,104.7 738.0,104.0 740.5,103.1 743.0,102.2 745.6,101.2 748.3,100.2 751.0,99.1 753.7,98.0 756.3,96.8 758.8,95.4 761.2,93.9 763.5,92.2 765.8,90.4 768.0,88.6 770.2,86.9 772.4,85.2 774.5,83.6 776.6,82.0 778.7,80.4 780.7,78.9 782.7,77.5 784.8,76.2 786.8,75.0 788.8,74.0 790.8,73.1 792.9,72.2 795.0,71.3 797.3,70.5 799.7,69.7 802.2,68.9 804.9,68.1 807.5,67.4 810.3,66.7 813.1,66.0 816.0,65.3 818.9,64.7 821.9,64.1 824.9,63.6 828.0,63.0 831.2,62.6 834.7,62.2 838.5,61.9 842.4,61.6 846.1,61.3 849.3,61.2 851.6,61.0 852.9,60.9 853.5,60.9 853.6,60.9 853.3,60.9 853.1,61.0 853.0,61.0 853.0,100.0 852.2,100.0 851.3,99.9 850.2,99.9 848.7,99.8 847.0,99.9 844.8,100.0 842.1,100.2 839.0,100.5 835.5,100.8 831.8,101.2 828.1,101.7 824.4,102.2 820.8,102.8 817.0,103.4 813.2,104.2 809.4,104.9 805.6,105.8 801.8,106.7 798.0,107.7 794.3,108.7 790.5,109.8 786.7,111.0 783.0,112.2 779.2,113.5 775.3,115.0 771.3,116.6 767.2,118.3 763.3,119.9 759.7,121.4 756.6,122.6 754.1,123.5 752.1,124.0 750.4,124.5 748.8,124.9 747.1,125.3 745.1,125.9 742.7,126.7 740.1,127.5 737.4,128.4 734.7,129.3 731.9,130.3 729.2,131.4 726.6,132.5 723.9,133.7 721.3,135.0 718.7,136.3 716.0,137.7 713.4,139.3 710.8,141.0 708.1,142.9 705.5,144.8 702.8,146.9 700.1,149.0 697.5,151.2 694.8,153.5 691.9,156.1 689.1,158.7 686.4,161.3 683.9,163.6 681.7,165.7 679.9,167.4 678.5,168.8 677.2,170.0 676.1,171.1 675.0,172.3 673.8,173.5 672.5,174.8 671.1,176.2 669.8,177.5 668.5,178.8 667.2,180.2 666.0,181.5 664.9,182.7 663.9,183.9 663.0,185.0 662.0,186.2 660.8,187.7 659.4,189.5 657.6,191.7 655.6,194.3 653.3,197.2 651.1,200.1 648.9,203.0 646.9,205.8 645.1,208.4 643.5,211.0 641.9,213.5 640.3,216.1 638.8,218.8 637.2,221.7 635.5,224.8 633.9,228.0 632.2,231.3 630.5,234.7 628.9,238.3 627.3,242.0 625.8,245.9 624.3,250.0 622.8,254.3 621.4,258.6 620.1,262.8 618.8,266.9 617.6,270.9 616.3,274.8 615.2,278.7 614.1,282.5 613.1,286.2 612.1,289.7 611.2,293.0 610.5,296.2 609.8,299.2 609.1,302.2 608.5,305.1 607.8,308.1 607.1,311.0 606.4,313.7 605.8,316.5 605.1,319.3 604.4,322.5 603.8,326.2 603.2,330.4 602.7,335.1 602.2,340.1 601.7,345.2 601.0,350.4 600.2,355.6 599.0,361.1 597.6,367.1 596.0,373.2 594.5,378.9 593.2,383.6 592.3,387.1 490.0,387.1" fill="#80F080"/></g>
<polyline points="490.0,387.1 592.3,387.1 593.2,383.6 594.5,378.9 596.0,373.2 597.6,367.1 599.0,361.1 600.2,355.6 601.0,350.4 601.7,345.2 602.2,340.1 602.7,335.1 603.2,330.4 603.8,326.2 604.4,322.5 605.1,319.3 605.8,316.5 606.4,313.7 607.1,311.0 607.8,308.1 608.5,305.1 609.1,302.2 609.8,299.2 610.5,296.2 611.2,293.0 612.1,289.7 613.1,286.2 614.1,282.5 615.2,278.7 616.3,274.8 617.6,270.9 618.8,266.9 620.1,262.8 621.4,258.6 622.8,254.3 624.3,250.0 625.8,245.9 627.3,242.0 628.9,238.3 630.5,234.7 632.2,231.3 633.9,228.0 635.5,224.8 637.2,221.7 638.8,218.8 640.3,216.1 641.9,213.5 643.5,211.0 645.1,208.4 646.9,205.8 648.9,203.0 651.1,200.1 653.3,197.2 655.6,194.3 657.6,191.7 659.4,189.5 660.8,187.7 662.0,186.2 663.0,185.0 663.9,183.9 664.9,182.7 666.0,181.5 667.2,180.2 668.5,178.8 669.8,177.5 671.1,176.2 672.5,174.8 673.8,173.5 675.0,172.3 676.1,171.1 677.2,170.0 678.5,168.8 679.9,167.4 681.7,165.7 683.9,163.6 686.4,161.3 689.1,158.7 691.9,156.1 694.8,153.5 697.5,151.2 700.1,149.0 702.8,146.9 705.5,144.8 708.1,142.9 710.8,141.0 713.4,139.3 716.0,137.7 718.7,136.3 721.3,135.0 723.9,133.7 726.6,132.5 729.2,131.4 731.9,130.3 734.7,129.3 737.4,128.4 740.1,127.5 742.7,126.7 745.1,125.9 747.1,125.3 748.8,124.9 750.4,124.5 752.1,124.0 754.1,123.5 756.6,122.6 759.7,121.4 763.3,119.9 767.2,118.3 771.3,116.6 775.3,115.0 779.2,113.5 783.0,112.2 786.7,111.0 790.5,109.8 794.3,108.7 798.0,107.7 801.8,106.7 805.6,105.8 809.4,104.9 813.2,104.2 817.0,103.4 820.8,102.8 824.4,102.2 828.1,101.7 831.8,101.2 835.5,100.8 839.0,100.5 842.1,100.2 844.8,100.0 847.0,99.9 848.7,99.8 850.2,99.9 851.3,99.9 852.2,100.0 853.0,100.0" fill="none" stroke="#000" stroke-width="3.1" stroke-linejoin="round"/>
<polyline points="490.0,387.1 585.5,387.1 586.3,383.6 587.3,378.9 588.6,373.2 590.0,367.1 591.2,361.1 592.3,355.6 593.2,350.5 594.0,345.4 594.7,340.3 595.4,335.4 596.1,330.7 596.8,326.2 597.5,321.9 598.1,317.8 598.7,313.9 599.4,310.2 600.0,306.8 600.6,303.6 601.2,300.9 601.8,298.7 602.3,296.8 602.9,294.8 603.6,292.6 604.5,289.7 605.5,286.1 606.7,282.1 607.9,277.7 609.2,273.3 610.6,268.9 612.0,264.7 613.4,260.8 614.9,257.0 616.3,253.2 617.9,249.5 619.5,245.8 621.2,242.0 623.0,238.1 624.8,234.2 626.8,230.3 628.8,226.4 630.8,222.8 632.8,219.4 634.8,216.4 636.9,213.6 639.0,211.0 641.2,208.5 643.4,206.0 645.6,203.6 647.9,201.2 650.1,198.9 652.4,196.7 654.8,194.5 657.3,192.2 660.0,189.7 662.9,187.0 665.9,184.1 669.1,181.2 672.3,178.2 675.5,175.3 678.6,172.5 681.7,169.8 684.8,167.1 687.9,164.4 690.9,161.9 693.9,159.6 696.7,157.6 699.3,156.0 701.9,154.7 704.3,153.6 706.6,152.7 709.0,151.8 711.3,151.0 713.6,150.2 715.9,149.5 718.1,148.9 720.3,148.4 722.6,147.9 724.9,147.3 727.3,146.7 729.8,146.0 732.2,145.3 734.7,144.7 737.2,144.3 739.6,144.1 742.0,144.3 744.4,144.7 746.8,145.3 749.1,146.0 751.3,146.6 753.2,147.0 754.8,147.1 756.0,147.0 757.1,146.9 758.3,146.8 759.5,146.8 761.1,147.1 763.0,147.7 765.1,148.5 767.4,149.5 769.8,150.5 772.2,151.7 774.7,152.8 777.2,154.0 779.8,155.2 782.5,156.5 785.2,157.8 787.8,159.2 790.5,160.7 793.1,162.2 795.8,163.8 798.4,165.5 801.0,167.3 803.7,169.0 806.3,170.9 809.0,172.9 811.7,174.9 814.4,177.0 817.1,179.2 819.7,181.3 822.2,183.3 824.6,185.2 827.0,187.1 829.2,189.0 831.4,190.9 833.6,192.8 835.7,194.7 837.8,196.8 839.9,199.0 841.9,201.3 843.8,203.5 845.5,205.4 847.1,207.1 848.5,208.4 849.7,209.6 850.8,210.5 851.7,211.2 852.4,211.8 853.0,212.3" fill="none" stroke="#000" stroke-width="3.1" stroke-linejoin="round"/>
<polyline points="542.5,387.1 543.3,384.7 544.4,381.3 545.7,377.3 547.0,373.0 548.3,368.7 549.3,364.7 550.1,361.0 550.7,357.2 551.2,353.5 551.7,349.7 552.2,345.9 552.7,342.0 553.3,337.8 553.8,333.4 554.3,329.0 554.9,324.6 555.5,320.6 556.1,317.1 556.8,314.2 557.5,311.8 558.2,309.7 559.0,307.7 559.8,305.7 560.6,303.6 561.5,301.4 562.4,299.4 563.3,297.3 564.3,295.1 565.3,292.6 566.3,289.8 567.4,286.5 568.5,282.8 569.6,278.9 570.8,274.8 572.0,270.8 573.2,266.9 574.4,263.1 575.7,259.3 577.0,255.4 578.3,251.7 579.7,247.9 581.1,244.3 582.5,240.8 583.9,237.3 585.3,234.0 586.8,230.6 588.4,227.3 590.1,223.9 592.0,220.4 594.1,216.9 596.3,213.3 598.5,209.9 600.6,206.6 602.6,203.6 604.4,201.0 605.9,198.8 607.4,196.8 609.0,194.8 610.8,192.5 612.9,189.7 615.4,186.4 618.2,182.7 621.2,178.7 624.4,174.6 627.7,170.7 631.1,166.9 634.6,163.3 638.4,159.8 642.3,156.3 646.2,152.9 650.0,149.7 653.7,146.6 657.2,143.7 660.6,140.8 663.9,138.2 667.2,135.6 670.6,133.1 674.1,130.7 677.8,128.4 681.6,126.1 685.5,123.9 689.4,121.9 693.2,120.0 696.7,118.3 700.0,116.8 703.2,115.5 706.3,114.4 709.3,113.4 712.1,112.4 714.8,111.5 717.3,110.6 719.6,109.8 721.8,109.1 724.0,108.4 726.1,107.7 728.4,107.0 730.8,106.2 733.1,105.5 735.6,104.7 738.0,104.0 740.5,103.1 743.0,102.2 745.6,101.2 748.3,100.2 751.0,99.1 753.7,98.0 756.3,96.8 758.8,95.4 761.2,93.9 763.5,92.2 765.8,90.4 768.0,88.6 770.2,86.9 772.4,85.2 774.5,83.6 776.6,82.0 778.7,80.4 780.7,78.9 782.7,77.5 784.8,76.2 786.8,75.0 788.8,74.0 790.8,73.1 792.9,72.2 795.0,71.3 797.3,70.5 799.7,69.7 802.2,68.9 804.9,68.1 807.5,67.4 810.3,66.7 813.1,66.0 816.0,65.3 818.9,64.7 821.9,64.1 824.9,63.6 828.0,63.0 831.2,62.6 834.7,62.2 838.5,61.9 842.4,61.6 846.1,61.3 849.3,61.2 851.6,61.0 852.9,60.9 853.5,60.9 853.6,60.9 853.3,60.9 853.1,61.0 853.0,61.0" fill="none" stroke="#000" stroke-width="2.5" stroke-dasharray="7 8" stroke-linecap="round" stroke-linejoin="round"/>
<polyline points="514.2,387.1 514.8,384.7 515.8,381.3 516.8,377.3 518.0,373.0 519.0,368.7 519.9,364.7 520.6,360.9 521.2,357.2 521.7,353.4 522.3,349.6 522.8,345.8 523.3,342.0 523.9,338.2 524.4,334.4 524.9,330.6 525.5,326.8 526.1,323.0 526.7,319.4 527.4,315.7 528.1,312.0 528.9,308.3 529.7,304.9 530.4,301.7 531.2,299.0 531.9,297.0 532.6,295.7 533.3,294.7 534.0,293.6 534.8,292.2 535.8,290.0 536.9,287.0 538.2,283.4 539.5,279.4 540.9,275.3 542.4,271.0 543.8,266.9 545.2,262.8 546.6,258.6 548.1,254.4 549.6,250.2 551.2,246.0 552.8,242.0 554.5,238.0 556.4,234.1 558.2,230.3 560.2,226.5 562.1,222.9 564.1,219.4 566.2,216.0 568.3,212.8 570.5,209.6 572.7,206.7 574.7,203.9 576.6,201.3 578.2,199.1 579.5,197.4 580.8,195.8 582.1,194.2 583.5,192.4 585.2,190.0 587.2,187.1 589.4,183.7 591.7,180.0 594.2,176.3 596.7,172.6 599.4,169.2 602.2,166.0 605.1,162.9 608.1,159.8 611.2,156.9 614.3,154.0 617.5,151.1 620.7,148.3 624.0,145.5 627.4,142.8 630.9,140.2 634.3,137.6 637.9,135.2 641.5,132.9 645.3,130.6 649.1,128.5 652.9,126.5 656.7,124.6 660.5,122.8 664.3,121.2 668.0,119.7 671.8,118.3 675.6,117.1 679.3,115.9 683.1,114.9 686.9,114.0 690.8,113.2 694.8,112.5 698.6,111.9 702.3,111.4 705.7,110.8 708.8,110.3 711.6,109.8 714.3,109.3 716.9,108.9 719.6,108.4 722.6,107.9 725.8,107.2 729.2,106.5 732.7,105.6 736.2,104.9 739.7,104.3 743.0,104.0 746.2,104.0 749.4,104.3 752.5,104.7 755.5,105.3 758.4,105.7 761.1,106.1 763.7,106.3 766.1,106.5 768.3,106.6 770.5,106.7 772.6,106.9 774.7,107.2 776.7,107.6 778.7,108.1 780.6,108.7 782.4,109.2 784.2,109.7 786.0,110.1 787.8,110.4 789.7,110.7 791.5,111.0 793.2,111.1 794.8,111.0 796.2,110.6 797.4,109.9 798.4,108.9 799.3,107.7 800.1,106.3 800.9,104.8 801.8,103.3 802.7,101.6 803.6,99.7 804.5,97.7 805.4,95.7 806.4,93.7 807.5,92.0 808.7,90.4 809.9,88.9 811.2,87.5 812.6,86.2 814.0,85.0 815.4,84.1 816.8,83.4 818.2,82.8 819.7,82.4 821.2,82.1 822.8,82.0 824.4,81.9 826.2,82.0 828.1,82.2 830.0,82.5 832.0,82.9 833.9,83.2 835.7,83.4 837.4,83.4 839.0,83.2 840.6,83.0 842.1,82.8 843.5,82.8 844.8,83.0 846.0,83.5 847.1,84.2 848.1,85.0 849.0,85.9 849.8,86.8 850.5,87.5 851.1,88.2 851.7,88.9 852.1,89.5 852.5,90.1 852.8,90.6 853.0,91.0" fill="none" stroke="#000" stroke-width="2.5" stroke-dasharray="7 8" stroke-linecap="round" stroke-linejoin="round"/>
</g>
<line x1="506.8" y1="50.9" x2="556.3" y2="50.9" stroke="#000" stroke-width="3.1" stroke-linecap="round"/>
<line x1="506.75" y1="75.6" x2="557" y2="75.6" stroke="#000" stroke-width="2.5" stroke-dasharray="6.9 7.4" stroke-linecap="round"/>
<text x="566.4" y="54.6" font-size="14.7" word-spacing="1.1">Corr. or uncorr. detectors</text>
<text x="566.4" y="79.3" font-size="14.7" word-spacing="1.1">Corr. detectors and</text>
<text transform="translate(681.7,79.3) scale(1.22,1)" font-size="14.7" class="i">ν</text>
<text transform="translate(689.1,79.3) scale(1.12,1)" font-size="14.7">−</text>
<text transform="translate(700.3,79.3) scale(1.22,1)" font-size="14.7" class="i">ν</text>
<line x1="700.5" y1="71.2" x2="706.7" y2="71.2" stroke="#000" stroke-width="0.7"/>
<text x="785.4" y="377" font-size="10.4">GLoBES 2007</text>
<text x="749.3" y="57" font-size="14.7" textLength="98.9" lengthAdjust="spacing">295km+1050km</text>
<text x="722.2" y="195.8" font-size="14.7" textLength="92.1" lengthAdjust="spacing">295km+295km</text>
<text x="614.0" y="24.5" font-size="17.4" textLength="126.4" lengthAdjust="spacing">CP violation (3<tspan class="i" textLength="10.8" lengthAdjust="spacingAndGlyphs">σ</tspan>)</text>
<text x="492.5" y="37.5" font-size="14.7" text-anchor="end">1</text>
<text x="492.5" y="108.1" font-size="14.7" text-anchor="end">0.8</text>
<text x="492.5" y="178.6" font-size="14.7" text-anchor="end">0.6</text>
<text x="492.5" y="249.2" font-size="14.7" text-anchor="end">0.4</text>
<text x="492.5" y="319.7" font-size="14.7" text-anchor="end">0.2</text>
<text x="492.5" y="390.3" font-size="14.7" text-anchor="end">0</text>
<text x="557.5" y="406.5" font-size="14.7">10<tspan font-size="10.4" dy="-6.6">−3</tspan></text>
<text x="698.5" y="406.5" font-size="14.7">10<tspan font-size="10.4" dy="-6.6">−2</tspan></text>
<text x="839.5" y="406.5" font-size="14.7">10<tspan font-size="10.4" dy="-6.6">−1</tspan></text>
<text x="610.1" y="426.6" font-size="14.7" word-spacing="0.7">True value of sin<tspan font-size="10.4" dy="-6.4" dx="-0.2">2</tspan><tspan dy="6.4" dx="2.1">2</tspan><tspan class="i">θ</tspan><tspan font-size="10.4" dy="2">13</tspan></text>
<text transform="translate(464.3,274.7) rotate(-90)" font-size="14.7">Fraction of (true) <tspan class="i">δ</tspan><tspan font-size="10.4" dy="2.5">CP</tspan></text>
</svg></body></html>
